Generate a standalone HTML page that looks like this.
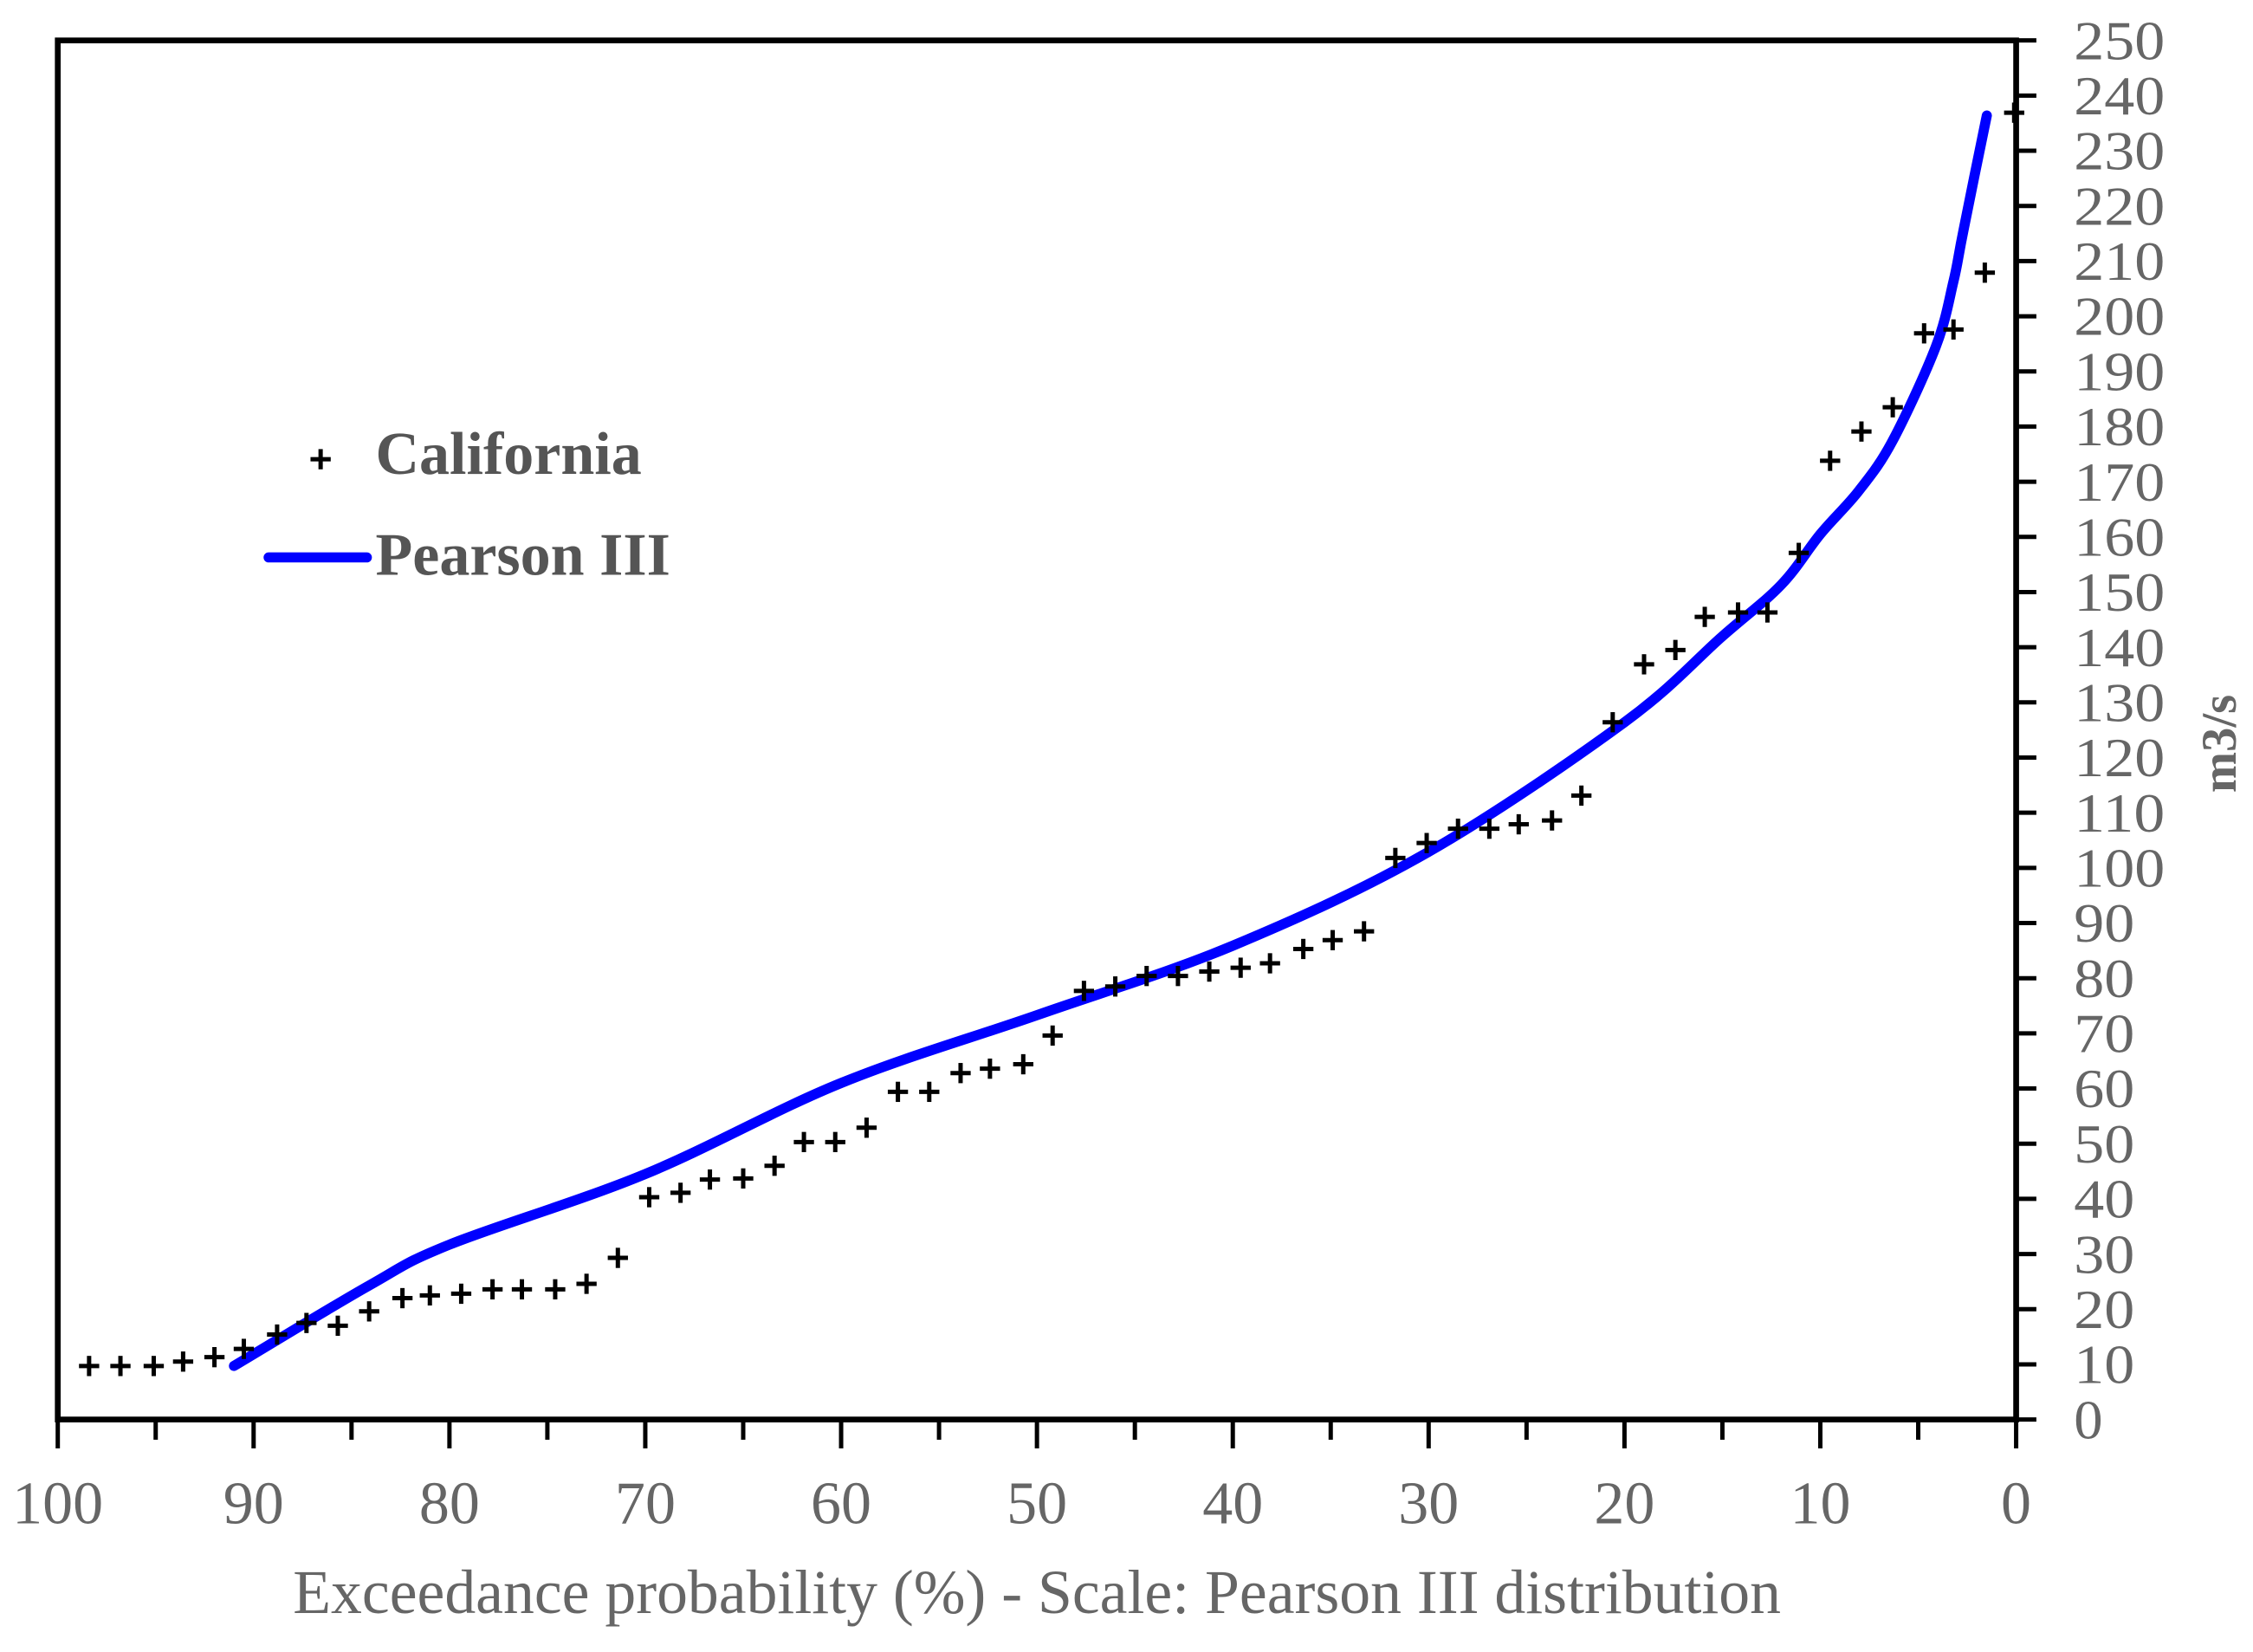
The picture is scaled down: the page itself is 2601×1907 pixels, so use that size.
<!DOCTYPE html>
<html><head><meta charset="utf-8"><style>
html,body{margin:0;padding:0;background:#fff;}
svg{display:block;font-family:"Liberation Serif",serif;}
</style></head><body>
<svg id="chart" width="2601" height="1907" viewBox="0 0 1560 1144" preserveAspectRatio="none" xmlns="http://www.w3.org/2000/svg">
<g id="marks"></g>
<g id="axes"></g>
<g>
  <g stroke="#000" stroke-width="3"><line x1="215" y1="318" x2="229" y2="318"/><line x1="222" y1="311" x2="222" y2="325"/></g>
  <text x="260" y="328" font-size="42" font-weight="bold" fill="#555">California</text>
  <line x1="186" y1="386" x2="254" y2="386" stroke="#0000ff" stroke-width="7" stroke-linecap="round"/>
  <text x="260" y="398" font-size="42" font-weight="bold" fill="#555">Pearson III</text>
</g>
<text x="718" y="1117" font-size="43" fill="#666" text-anchor="middle">Exceedance probability (%) - Scale: Pearson III distribution</text>
<text transform="translate(1548,515) rotate(-90)" font-size="34" font-weight="bold" fill="#666" text-anchor="middle">m3/s</text>
</svg>
<script>
const obsProb = [98.4,96.8,95.1,93.6,92,90.5,88.8,87.3,85.7,84.1,82.4,81,79.4,77.8,76.3,74.6,73,71.4,69.8,68.2,66.7,65,63.4,61.9,60.3,58.7,57.1,55.5,53.9,52.4,50.7,49.2,47.6,46,44.4,42.8,41.2,39.6,38.1,36.4,34.9,33.3,31.7,30.1,28.5,26.9,25.4,23.7,22.2,20.6,19,17.4,15.9,14.2,12.7,11.1,9.5,7.9,6.3,4.7,3.2,1.6,0.1];
const obsFlow = [9.7,9.7,9.7,10.5,11.3,12.8,15.4,17.5,17,19.6,22,22.5,22.8,23.6,23.6,23.6,24.6,29.3,40.3,41.1,43.5,43.7,46,50.3,50.3,52.9,59.4,59.4,62.8,63.6,64.4,69.6,77.7,78.5,80.4,80.4,81.2,81.9,82.7,85.3,86.9,88.5,101.8,104.5,107.1,107.1,107.9,108.6,113.1,126.4,136.9,139.5,145.5,146.3,146.3,157.1,173.8,179.1,183.5,196.9,197.6,207.9,236.9];
const fitProb = [91,84.1,80,70,60,50,40,30,20,15,12,10,8,6.3,4.1,3.2,2.7,1.5];
const fitFlow = [9.7,24.3,31.7,44.5,61,73.3,85.9,102.9,126.4,142,151.3,160.5,168.5,177.5,194.5,206.3,215.4,236.4];
const xTicks = [100,95,90,85,80,75,70,65,60,55,50,45,40,35,30,25,20,15,10,5,0];
const xLabels = ["100","90","80","70","60","50","40","30","20","10","0"];
const yTicks = [0,10,20,30,40,50,60,70,80,90,100,110,120,130,140,150,160,170,180,190,200,210,220,230,240,250];

const L=40,R=1396,T=28,B=983;
const xs = p => R - (p/100)*(R-L);
const ys = v => B - (v/250)*(B-T);
const NS="http://www.w3.org/2000/svg";
function mk(tag, attrs, parent){const e=document.createElementNS(NS,tag);for(const k in attrs)e.setAttribute(k,attrs[k]);parent.appendChild(e);return e;}
const axes=document.getElementById('axes'), marks=document.getElementById('marks');

const frame=mk('rect',{x:L,y:T,width:R-L,height:B-T,fill:'none',stroke:'#000','stroke-width':4},axes);



xTicks.forEach(t=>{
  const major = t%10===0;
  const ln=mk('line',{x1:xs(t),x2:xs(t),y1:B,y2:B+(major?20:14),stroke:'#000','stroke-width':3},axes);
  
  
});
xLabels.forEach(s=>{
  const tx=mk('text',{x:xs(+s),y:1055,'font-size':42,fill:'#666','text-anchor':'middle'},axes);
  tx.textContent=s;
  
  
});
yTicks.forEach(t=>{
  const ln=mk('line',{x1:R,x2:R+14,y1:ys(t),y2:ys(t),stroke:'#000','stroke-width':3},axes);
  
  
  const tx=mk('text',{x:1436,y:ys(t)+13,'font-size':38,fill:'#666',textLength:t>=100?63:(t>0?42:20),lengthAdjust:'spacingAndGlyphs'},axes);
  tx.textContent=String(t);
  
  
});

// smooth curve via Catmull-Rom
const P=fitProb.map((p,i)=>[xs(p),ys(fitFlow[i])]);
let d='M'+P[0][0].toFixed(1)+' '+P[0][1].toFixed(1);
for(let i=0;i<P.length-1;i++){
  const p0=P[i-1]||P[i],p1=P[i],p2=P[i+1],p3=P[i+2]||P[i+1];
  const c1=[p1[0]+(p2[0]-p0[0])/6,p1[1]+(p2[1]-p0[1])/6];
  const c2=[p2[0]-(p3[0]-p1[0])/6,p2[1]-(p3[1]-p1[1])/6];
  d+=' C'+c1[0].toFixed(1)+' '+c1[1].toFixed(1)+' '+c2[0].toFixed(1)+' '+c2[1].toFixed(1)+' '+p2[0].toFixed(1)+' '+p2[1].toFixed(1);
}
const path=mk('path',{d:d,fill:'none',stroke:'#0000ff','stroke-width':7,'stroke-linecap':'round','stroke-linejoin':'round'},marks);



obsProb.forEach((p,i)=>{
  const x=xs(p), y=ys(obsFlow[i]);
  const g=mk('g',{stroke:'#000','stroke-width':3},marks);
  
  
  mk('line',{x1:x-7,x2:x+7,y1:y,y2:y},g);
  mk('line',{x1:x,x2:x,y1:y-7,y2:y+7},g);
});
</script>
</body></html>
